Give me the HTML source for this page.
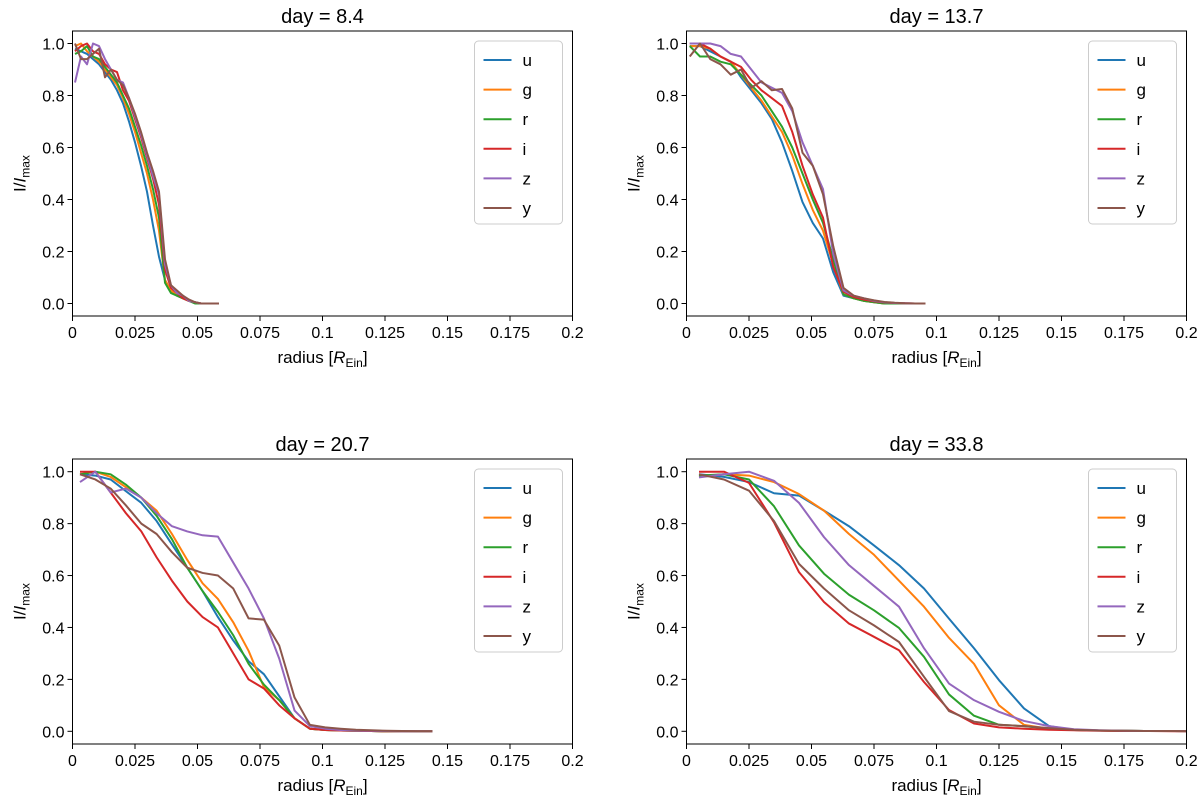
<!DOCTYPE html>
<html><head><meta charset="utf-8"><style>
body{margin:0;background:#fff}
svg text{font-family:"Liberation Sans","DejaVu Sans",sans-serif;fill:#000}
</style></head><body>
<svg id="fig" width="1200" height="803" viewBox="0 0 1200 803" xmlns="http://www.w3.org/2000/svg"></svg>
<script>
// ---- data ----
const bands = ["u","g","r","i","z","y"];
const colors = ["#1f77b4","#ff7f0e","#2ca02c","#d62728","#9467bd","#8c564b"];
const xTicks = [0,0.025,0.05,0.075,0.1,0.125,0.15,0.175,0.2];
const xTickLabels = ["0","0.025","0.05","0.075","0.1","0.125","0.15","0.175","0.2"];
const yTicks = [0,0.2,0.4,0.6,0.8,1.0];
const yTickLabels = ["0.0","0.2","0.4","0.6","0.8","1.0"];
const titles = ["day = 8.4","day = 13.7","day = 20.7","day = 33.8"];
const gridStart = [0.001,0.0013,0.003,0.005];
const gridStep = [0.0024,0.0041,0.00613,0.01];

const day8_u=[.98,.97,.96,.94,.92,.89,.86,.82,.77,.70,.62,.53,.43,.30,.18,.09,.05,.03,.02,.01,.005,0,0,0,0];
const day8_g=[.99,1.0,.97,.95,.93,.90,.87,.84,.79,.73,.66,.58,.50,.40,.28,.09,.05,.03,.02,.01,.005,0,0,0,0];
const day8_r=[.96,.97,.99,.95,.94,.91,.88,.85,.80,.75,.68,.61,.53,.44,.33,.08,.04,.03,.02,.01,0,0,0,0,0];
const day8_i=[.97,.99,1.0,.97,.96,.92,.90,.89,.82,.78,.71,.64,.56,.48,.38,.13,.06,.04,.02,.01,.005,0,0,0,0];
const day8_z=[.85,.95,.92,1.0,.99,.94,.90,.86,.85,.79,.72,.65,.57,.49,.42,.15,.07,.04,.03,.01,.005,0,0,0,0];
const day8_y=[1.0,.94,.94,.96,.98,.87,.90,.86,.84,.79,.73,.66,.58,.51,.43,.17,.07,.05,.03,.015,.005,0,0,0,0];

const day13_u=[.99,.99,.97,.95,.93,.87,.82,.77,.71,.62,.51,.39,.31,.25,.12,.03,.02,.01,.005,0,0,0,0,0];
const day13_g=[.99,.99,.98,.95,.93,.88,.83,.78,.72,.66,.57,.46,.36,.28,.15,.035,.02,.01,.005,0,0,0,0,0];
const day13_r=[.99,.95,.95,.93,.92,.88,.84,.80,.74,.68,.60,.50,.40,.31,.17,.035,.02,.01,.005,0,0,0,0,0];
const day13_i=[1.0,1.0,.98,.95,.93,.91,.86,.82,.79,.76,.66,.53,.42,.33,.14,.045,.025,.015,.008,.004,.002,.001,0,0];
const day13_z=[1.0,1.0,1.0,.99,.96,.95,.90,.85,.83,.81,.74,.62,.53,.44,.19,.05,.03,.02,.01,.005,.002,.001,0,0];
const day13_y=[.95,1.0,.94,.92,.88,.90,.83,.855,.82,.825,.75,.58,.53,.42,.22,.06,.03,.02,.012,.006,.003,.001,0,0];

const day20_u=[.99,.985,.97,.925,.88,.81,.72,.63,.54,.44,.35,.27,.22,.135,.05,.01,.005,.003,.002,.001,0,0,0,0];
const day20_g=[.99,1.0,.98,.94,.90,.85,.76,.66,.57,.51,.42,.31,.17,.12,.05,.01,.005,.003,.002,.001,0,0,0,0];
const day20_r=[.99,1.0,.99,.95,.90,.83,.74,.63,.54,.46,.37,.26,.18,.12,.05,.01,.005,.003,.002,.001,0,0,0,0];
const day20_i=[1.0,1.0,.92,.84,.77,.67,.58,.50,.44,.40,.30,.20,.165,.10,.05,.01,.005,.003,.002,.001,0,0,0,0];
const day20_z=[.96,1.0,.92,.935,.90,.84,.79,.77,.755,.75,.65,.55,.435,.28,.08,.02,.01,.005,.003,.002,.001,0,0,0];
const day20_y=[.99,.97,.935,.87,.80,.76,.69,.63,.61,.60,.55,.435,.43,.33,.13,.025,.015,.01,.006,.004,.002,.001,0,0];

const day33_u=[.99,.98,.96,.917,.908,.85,.79,.716,.64,.55,.434,.32,.197,.088,.02,.005,.003,.002,.001,.001,0];
const day33_g=[.98,.99,.985,.96,.914,.85,.76,.68,.58,.48,.36,.26,.10,.025,.01,.005,.003,.002,.001,.001,0];
const day33_r=[.985,.99,.97,.867,.716,.607,.526,.466,.398,.287,.142,.06,.025,.02,.01,.005,.003,.002,.001,.001,0];
const day33_i=[1.0,1.0,.957,.805,.613,.498,.415,.364,.312,.19,.082,.03,.015,.01,.006,.004,.002,.001,.001,0,0];
const day33_z=[.978,.99,1.0,.965,.88,.748,.64,.56,.48,.32,.184,.12,.075,.04,.02,.008,.004,.002,.001,.001,0];
const day33_y=[.99,.97,.927,.81,.645,.55,.466,.408,.344,.21,.078,.037,.025,.02,.012,.006,.003,.002,.001,.001,0];

const panelSeries = [
 [day8_u,day8_g,day8_r,day8_i,day8_z,day8_y],
 [day13_u,day13_g,day13_r,day13_i,day13_z,day13_y],
 [day20_u,day20_g,day20_r,day20_i,day20_z,day20_y],
 [day33_u,day33_g,day33_r,day33_i,day33_z,day33_y]
];
// ---- layout ----
const panels = [
 {L:72.5,T:31,B:316,y1:43.5,y0:303.5},
 {L:686.5,T:31,B:316,y1:43.5,y0:303.5},
 {L:72.5,T:459,B:744,y1:471.7,y0:731.3},
 {L:686.5,T:459,B:744,y1:471.7,y0:731.3}
];
const W=500;
const NS="http://www.w3.org/2000/svg";
const svg=document.getElementById('fig');
function mk(tag,attrs,parent){const e=document.createElementNS(NS,tag);for(const k in attrs)e.setAttribute(k,attrs[k]);(parent||svg).appendChild(e);return e;}
const defs=mk('defs',{});

panels.forEach((p,pi)=>{
  const cp=mk('clipPath',{id:'clip'+pi},defs);
  mk('rect',{x:p.L,y:p.T,width:W,height:p.B-p.T},cp);
  const g=mk('g',{});
  
  
  const xs=v=>p.L+v/0.2*W;
  const ys=v=>p.y0+(p.y1-p.y0)*v;
  const sg=mk('g',{'clip-path':'url(#clip'+pi+')'},g);
  panelSeries[pi].forEach((vals,si)=>{
    const pts=vals.map((v,i)=>xs(gridStart[pi]+gridStep[pi]*i).toFixed(2)+','+ys(v).toFixed(2)).join(' ');
    const pl=mk('polyline',{points:pts,fill:'none',stroke:colors[si],'stroke-width':2,'stroke-linejoin':'round'},sg);
    
    
  });
  const fr=mk('rect',{x:p.L,y:p.T,width:W,height:p.B-p.T,fill:'none',stroke:'#000','stroke-width':1},g);
  
  
  xTicks.forEach((t,i)=>{
    const x=xs(t);
    mk('line',{x1:x,x2:x,y1:p.B,y2:p.B+5,stroke:'#000','stroke-width':1},g);
    const tx=mk('text',{x:x,y:p.B+22,'font-size':16,'text-anchor':'middle'},g);
    tx.textContent=xTickLabels[i];
    
    
  });
  yTicks.forEach((t,i)=>{
    const y=ys(t);
    mk('line',{x1:p.L-5,x2:p.L,y1:y,y2:y,stroke:'#000','stroke-width':1},g);
    const tx=mk('text',{x:p.L-8,y:y+6,'font-size':16,'text-anchor':'end'},g);
    tx.textContent=yTickLabels[i];
    
    
  });
  const ti=mk('text',{x:p.L+W/2,y:p.T-8,'font-size':20,'text-anchor':'middle'},g);
  ti.textContent=titles[pi];
  
  
  const xl=mk('text',{x:p.L+W/2,y:p.B+47,'font-size':17,'text-anchor':'middle'},g);
  xl.innerHTML='radius [<tspan font-style="italic">R</tspan><tspan font-size="12" dy="4">Ein</tspan><tspan dy="-4">]</tspan>';
  
  
  const cy=(p.T+p.B)/2, cx=p.L-47;
  const yl=mk('text',{x:cx,y:cy,'font-size':17,'text-anchor':'middle',transform:'rotate(-90 '+cx+' '+cy+')'},g);
  yl.innerHTML='I/<tspan font-style="italic">I</tspan><tspan font-size="12" dy="4">max</tspan>';
  
  
  const lx=p.L+W-98, ly=p.T+10;
  const lg=mk('g',{},g);
  
  
  mk('rect',{x:lx,y:ly,width:88,height:183,rx:4,fill:'#fff','fill-opacity':0.8,stroke:'#ccc','stroke-width':1},lg);
  bands.forEach((b,si)=>{
    const ey=ly+19+si*29.6;
    const e=mk('g',{},lg);
    
    
    mk('line',{x1:lx+9,x2:lx+37,y1:ey,y2:ey,stroke:colors[si],'stroke-width':2},e);
    const t=mk('text',{x:lx+48,y:ey+6,'font-size':17},e);
    t.textContent=b;
  });
});
</script>
</body></html>
